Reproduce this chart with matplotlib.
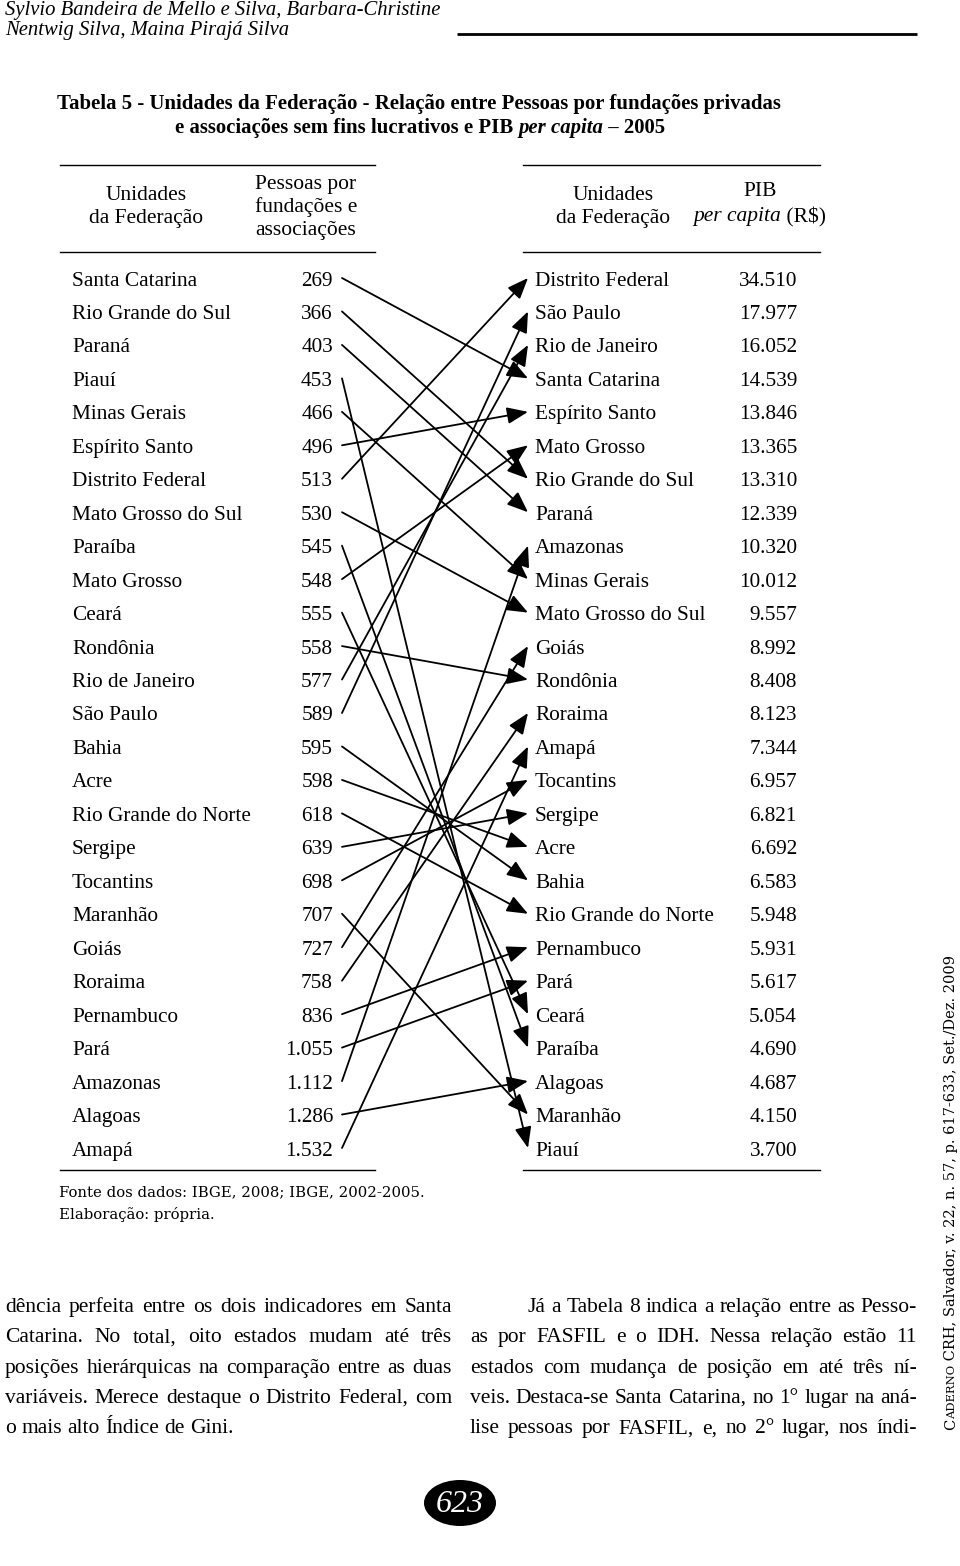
import matplotlib
matplotlib.use("Agg")
import matplotlib.pyplot as plt
from matplotlib.patches import Ellipse

# ---------------- data ----------------
left_states = ["Santa Catarina", "Rio Grande do Sul", "Paraná", "Piauí", "Minas Gerais",
               "Espírito Santo", "Distrito Federal", "Mato Grosso do Sul", "Paraíba",
               "Mato Grosso", "Ceará", "Rondônia", "Rio de Janeiro", "São Paulo", "Bahia",
               "Acre", "Rio Grande do Norte", "Sergipe", "Tocantins", "Maranhão", "Goiás",
               "Roraima", "Pernambuco", "Pará", "Amazonas", "Alagoas", "Amapá"]
pessoas = [269, 366, 403, 453, 466, 496, 513, 530, 545, 548, 555, 558, 577, 589, 595,
           598, 618, 639, 698, 707, 727, 758, 836, 1055, 1112, 1286, 1532]

right_states = ["Distrito Federal", "São Paulo", "Rio de Janeiro", "Santa Catarina",
                "Espírito Santo", "Mato Grosso", "Rio Grande do Sul", "Paraná", "Amazonas",
                "Minas Gerais", "Mato Grosso do Sul", "Goiás", "Rondônia", "Roraima", "Amapá",
                "Tocantins", "Sergipe", "Acre", "Bahia", "Rio Grande do Norte", "Pernambuco",
                "Pará", "Ceará", "Paraíba", "Alagoas", "Maranhão", "Piauí"]
pib = [34510, 17977, 16052, 14539, 13846, 13365, 13310, 12339, 10320, 10012, 9557, 8992,
       8408, 8123, 7344, 6957, 6821, 6692, 6583, 5948, 5931, 5617, 5054, 4690, 4687, 4150, 3700]

author_lines = ["Sylvio Bandeira de Mello e Silva, Barbara-Christine",
                "Nentwig Silva, Maina Pirajá Silva"]
title_line1 = "Tabela 5 - Unidades da Federação - Relação entre Pessoas por fundações privadas"
title_line2 = [("e associações sem fins lucrativos e PIB ", "normal"),
               ("per capita", "italic"), (" – 2005", "normal")]
footnotes = ["Fonte dos dados: IBGE, 2008; IBGE, 2002-2005.", "Elaboração: própria."]
body_left = ["dência perfeita entre os dois indicadores em Santa",
             "Catarina. No total, oito estados mudam até três",
             "posições hierárquicas na comparação entre as duas",
             "variáveis. Merece destaque o Distrito Federal, com",
             "o mais alto Índice de Gini."]
body_right = ["Já a Tabela 8 indica a relação entre as Pesso-",
              "as por FASFIL e o IDH. Nessa relação estão 11",
              "estados com mudança de posição em até três ní-",
              "veis. Destaca-se Santa Catarina, no 1° lugar na aná-",
              "lise pessoas por FASFIL, e, no 2° lugar, nos índi-"]
side_runs = [("C", 1.0), ("ADERNO", 0.78),
             (" CRH, Salvador, v. 22, n. 57, p. 617-633, Set./Dez. 2009", 1.0)]
page_number = "623"


def br(v):
    return f"{v:,}".replace(",", ".")


# ---------------- figure ----------------
W, H = 960, 1566
fig = plt.figure(figsize=(W / 100, H / 100), dpi=100)
fig.patch.set_facecolor("white")
page = fig.add_axes([0, 0, 1, 1])
page.set_xlim(0, W)
page.set_ylim(H, 0)
page.axis("off")

fig.canvas.draw()
R = fig.canvas.get_renderer()
SERIF = ["Liberation Serif", "DejaVu Serif"]


def width_of(t):
    return t.get_window_extent(renderer=R).width


def fit(x, y, s, target, **kw):
    t = page.text(x, y, s, fontsize=10, **kw)
    w = width_of(t)
    t.set_fontsize(10 * target / w)
    return t


def runs(x, y, pieces, size, weight="normal", center=False, **kw):
    ts = []
    for s, style in pieces:
        ts.append(page.text(0, y, s, fontsize=size, fontstyle=style, weight=weight,
                            ha="left", **kw))
    ws = [width_of(t) for t in ts]
    total = sum(ws)
    cx = x - total / 2 if center else x
    for t, w in zip(ts, ws):
        t.set_x(cx)
        cx += w
    return ts


def justify(x0, x1, y, line, size, family, last=False):
    words = line.split()
    ts = [page.text(0, y, w, fontsize=size, family=family, va="baseline", ha="left")
          for w in words]
    ws = [width_of(t) for t in ts]
    if last:
        sp = page.text(0, y, "a a", fontsize=size, family=family)
        sp2 = page.text(0, y, "aa", fontsize=size, family=family)
        gap = width_of(sp) - width_of(sp2)
        sp.remove(); sp2.remove()
    else:
        gap = (x1 - x0 - sum(ws)) / (len(words) - 1)
    cx = x0
    for t, w in zip(ts, ws):
        t.set_x(cx)
        cx += w + gap


# ---------------- header ----------------
a1 = fit(5, 11, author_lines[0], 435, family=SERIF, fontstyle="italic", va="center")
page.text(5, 31, author_lines[1], fontsize=a1.get_fontsize(), family=SERIF,
          fontstyle="italic", va="center")
page.plot([457, 917], [34, 34], color="black", lw=2.0, solid_capstyle="butt")

t1 = fit(57, 104, title_line1, 725, family=SERIF, weight="bold", va="center")
runs(420, 128, title_line2, t1.get_fontsize(), weight="bold", center=True,
     family=SERIF, va="center")

# table rules
for y in (165, 252, 1170):
    page.plot([60, 375], [y, y], color="black", lw=1.0)
    page.plot([523, 820], [y, y], color="black", lw=1.0)

HS = 15.5
page.text(146, 195, "Unidades", fontsize=HS, family=SERIF, ha="center", va="center")
page.text(146, 218, "da Federação", fontsize=HS, family=SERIF, ha="center", va="center")
for yy, s in zip((184, 207, 230), ("Pessoas por", "fundações e", "associações")):
    page.text(306, yy, s, fontsize=HS, family=SERIF, ha="center", va="center")
page.text(613, 195, "Unidades", fontsize=HS, family=SERIF, ha="center", va="center")
page.text(613, 218, "da Federação", fontsize=HS, family=SERIF, ha="center", va="center")
page.text(760, 191, "PIB", fontsize=HS, family=SERIF, ha="center", va="center")
runs(760, 217, [("per capita", "italic"), (" (R$)", "normal")], HS, center=True,
     family=SERIF, va="center")

# ---------------- table with arrows ----------------
n = len(left_states)
y_first, y_last = 278, 1148
dy = (y_last - y_first) / (n - 1)
top_px, bot_px = y_first - dy / 2, y_last + dy / 2
tab = fig.add_axes([0, 1 - bot_px / H, 1, (bot_px - top_px) / H])
tab.set_xlim(0, W)
tab.set_ylim(n - 0.5, -0.5)
tab.axis("off")
tab.patch.set_alpha(0)

RS = 15.3
base = 7.5 / dy  # baseline offset below row centre, in row units
for i, (s, v) in enumerate(zip(left_states, pessoas)):
    tab.text(72, i + base, s, fontsize=RS, family=SERIF, va="baseline", ha="left")
    tab.text(333, i + base, br(v), fontsize=RS, family=SERIF, va="baseline", ha="right")
for j, (s, v) in enumerate(zip(right_states, pib)):
    tab.text(535, j + base, s, fontsize=RS, family=SERIF, va="baseline", ha="left")
    tab.text(797, j + base, br(v), fontsize=RS, family=SERIF, va="baseline", ha="right")

for i, s in enumerate(left_states):
    j = right_states.index(s)
    tab.annotate("", xy=(528, j), xytext=(342, i),
                 arrowprops=dict(arrowstyle="-|>,head_length=0.8,head_width=0.32",
                                 mutation_scale=16, lw=1.3, color="black",
                                 shrinkA=0, shrinkB=0))

# ---------------- footnote ----------------
f1 = fit(59, 1192, footnotes[0], 363, family=["DejaVu Serif"], va="center")
page.text(59, 1214, footnotes[1], fontsize=f1.get_fontsize(), family=["DejaVu Serif"],
          va="center")

# ---------------- body text ----------------
probe = page.text(0, 0, "x", fontsize=10, family=SERIF)
sizes = []
for ln in body_left[:4] + body_right[1:]:
    probe.set_text(ln)
    sizes.append(10 * 447 / width_of(probe))
probe.set_text(body_right[0])
sizes.append(10 * (917 - 527) / width_of(probe))
probe.remove()
BS = min(sizes) * 0.995

ys = [1312 + k * 30.3 for k in range(5)]  # baselines
for k, ln in enumerate(body_left):
    justify(5, 452, ys[k], ln, BS, SERIF, last=(k == 4))
for k, ln in enumerate(body_right):
    justify(527 if k == 0 else 470, 917, ys[k], ln, BS, SERIF)

# ---------------- side text ----------------
SSZ = 10
side_len = 0
probes = []
for s, scale in side_runs:
    t = page.text(0, 0, s, fontsize=SSZ * scale, family=["DejaVu Serif"])
    side_len += width_of(t)
    probes.append(t)
for t in probes:
    t.remove()
SSZ = SSZ * 475 / side_len
pos = 1430
for s, scale in side_runs:
    t = page.text(955, pos, s, fontsize=SSZ * scale, family=["DejaVu Serif"], rotation=90,
                  rotation_mode="anchor", ha="left", va="baseline")
    pos -= t.get_window_extent(renderer=R).height

# ---------------- page number ----------------
page.add_patch(Ellipse((460, 1503), 72, 46, facecolor="black", edgecolor="none"))
page.text(460, 1504, page_number, fontsize=23, family=SERIF, fontstyle="italic",
          color="white", ha="center", va="center")

fig.savefig("out.png", dpi=100, facecolor="white")
